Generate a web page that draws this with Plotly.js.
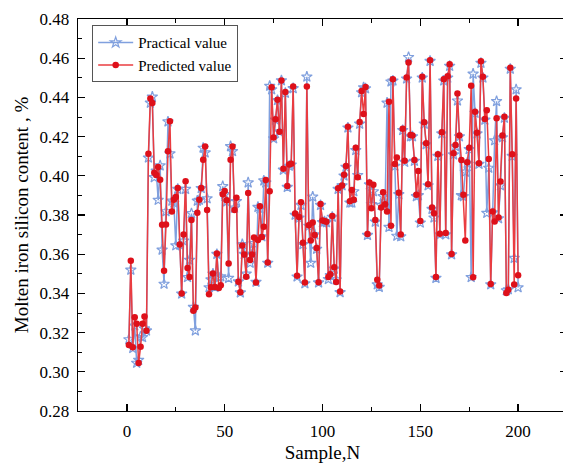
<!DOCTYPE html>
<html>
<head>
<meta charset="utf-8">
<script src="https://cdn.plot.ly/plotly-3.0.1.min.js"></script>
<style>
html,body{margin:0;padding:0;overflow:hidden;background:#fff;width:563px;height:467px;}
#chart{width:570px;height:467px;}
</style>
</head>
<body>
<div id="chart"></div>
<script>
const practicalValue = [
0.3165,0.3520,0.3120,0.3235,0.3045,0.3060,0.3180,0.3176,0.3220,0.3210,
0.4092,0.4372,0.4403,0.3992,0.4025,0.3876,0.4052,0.3622,0.3448,0.3818,
0.4276,0.4113,0.3872,0.3862,0.3644,0.3932,0.3648,0.3398,0.3668,0.3932,
0.3482,0.3570,0.3808,0.3330,0.3210,0.3872,0.3876,0.3936,0.4142,0.4118,
0.3884,0.3430,0.3470,0.3500,0.3432,0.3600,0.3480,0.3486,0.3946,0.3905,
0.3868,0.3478,0.4150,0.4125,0.3836,0.3870,0.3460,0.3404,0.3650,0.3600,
0.3500,0.3965,0.3555,0.3600,0.3655,0.3458,0.3840,0.3832,0.3690,0.3975,
0.3965,0.3555,0.4458,0.4440,0.4190,0.4285,0.4385,0.4225,0.4486,0.4030,
0.4422,0.3942,0.4050,0.4056,0.4446,0.3800,0.3485,0.3785,0.3850,0.3650,
0.3450,0.4505,0.3744,0.3555,0.3893,0.3700,0.3626,0.3455,0.3850,0.3762,
0.3766,0.3762,0.3472,0.3492,0.3790,0.3525,0.3470,0.3932,0.3405,0.3950,
0.4000,0.4045,0.4245,0.3862,0.3862,0.3920,0.4130,0.4003,0.4265,0.4425,
0.4450,0.4445,0.3697,0.3955,0.3855,0.3920,0.3765,0.3445,0.3432,0.3850,
0.3895,0.3855,0.4372,0.3738,0.4480,0.4485,0.4050,0.3693,0.3905,0.3690,
0.4232,0.4070,0.4495,0.4605,0.4200,0.4200,0.4075,0.3895,0.3900,0.3760,
0.4500,0.4265,0.4160,0.3950,0.4585,0.3830,0.3786,0.3478,0.4100,0.3700,
0.4215,0.4485,0.3700,0.4500,0.4560,0.3598,0.4108,0.4150,0.4383,0.4200,
0.3900,0.3895,0.4020,0.4065,0.4135,0.3482,0.4520,0.4320,0.4215,0.4060,
0.4575,0.4500,0.4285,0.3810,0.4040,0.3445,0.3812,0.4180,0.4380,0.3782,
0.3950,0.4195,0.4295,0.3415,0.3420,0.4545,0.4100,0.3580,0.4440,0.3430
];
const predictedValue = [
0.3137,0.3566,0.3125,0.3278,0.3245,0.3045,0.3128,0.3245,0.3282,0.3210,
0.4112,0.4395,0.4372,0.4015,0.4004,0.4045,0.3980,0.3750,0.3515,0.3752,
0.4125,0.4278,0.3818,0.3878,0.3892,0.3938,0.3650,0.3400,0.3700,0.3972,
0.3530,0.3484,0.3775,0.3312,0.3328,0.3812,0.3878,0.3938,0.4082,0.4150,
0.3825,0.3396,0.3432,0.3502,0.3433,0.3603,0.3428,0.3442,0.3906,0.3922,
0.3875,0.3552,0.4082,0.4150,0.3825,0.3888,0.3460,0.3406,0.3645,0.3598,
0.3485,0.3912,0.3570,0.3598,0.3685,0.3455,0.3672,0.3845,0.3688,0.3740,
0.3978,0.3558,0.3921,0.4452,0.4195,0.4288,0.4388,0.4225,0.4486,0.4036,
0.4428,0.3948,0.4058,0.4062,0.4456,0.3808,0.3490,0.3790,0.3865,0.3658,
0.3455,0.4456,0.3748,0.3670,0.3762,0.3698,0.3632,0.3457,0.3856,0.3772,
0.3770,0.3766,0.3484,0.3498,0.3795,0.3533,0.3458,0.3937,0.3410,0.3950,
0.4005,0.4050,0.4250,0.3870,0.3928,0.3878,0.4143,0.3993,0.4275,0.4433,
0.4315,0.4453,0.3703,0.3966,0.3835,0.3954,0.3775,0.3470,0.3440,0.3838,
0.3916,0.3855,0.3818,0.4378,0.3745,0.4492,0.4060,0.4093,0.3914,0.3700,
0.4240,0.4077,0.4502,0.4578,0.4208,0.4205,0.4081,0.3903,0.4025,0.3770,
0.4505,0.4273,0.4166,0.3957,0.4590,0.3838,0.3809,0.3484,0.4110,0.3704,
0.4222,0.4492,0.3708,0.4508,0.4569,0.3601,0.4115,0.4157,0.4420,0.4205,
0.4081,0.3903,0.3670,0.4069,0.4143,0.4459,0.3482,0.4327,0.4220,0.4064,
0.4585,0.4505,0.4290,0.4335,0.4086,0.3448,0.3818,0.3767,0.4293,0.3787,
0.3971,0.4205,0.4301,0.3402,0.3419,0.4551,0.4110,0.3445,0.4395,0.3492
];
const sampleN = practicalValue.map((_, i) => i + 1);
const xTickVals = [0, 50, 100, 150, 200];
const yTickVals = [0.28, 0.30, 0.32, 0.34, 0.36, 0.38, 0.40, 0.42, 0.44, 0.46, 0.48];

const fontFam = 'Liberation Serif';

const traces = [
  {
    x: sampleN, y: practicalValue, name: 'Practical value',
    type: 'scatter', mode: 'lines+markers',
    line: {color: 'rgb(128,160,222)', width: 1.5},
    marker: {symbol: 'star-open', size: 8, color: 'rgb(128,160,222)', line: {width: 1.2, color: 'rgb(128,160,222)'}}
  },
  {
    x: sampleN, y: predictedValue, name: 'Predicted value',
    type: 'scatter', mode: 'lines+markers',
    line: {color: 'rgb(234,60,64)', width: 1.5},
    marker: {symbol: 'circle', size: 6.5, color: 'rgb(222,16,26)'}
  }
];

const axisCommon = {
  showline: true, linecolor: '#000', linewidth: 1.3, mirror: 'ticks',
  ticks: 'inside', ticklen: 7, tickwidth: 1.2, tickcolor: '#000',
  showgrid: false, zeroline: false,
  tickfont: {family: fontFam, size: 17, color: '#000'}
};

const layout = {
  width: 570, height: 467,
  margin: {l: 78, r: 3, t: 19, b: 56},
  paper_bgcolor: '#fff', plot_bgcolor: '#fff',
  font: {family: fontFam, color: '#000'},
  showlegend: true,
  legend: {
    x: 0.029, y: 0.984, xanchor: 'left', yanchor: 'top',
    bgcolor: '#fff', bordercolor: '#555', borderwidth: 1,
    font: {family: fontFam, size: 15, color: '#000'},
    tracegroupgap: 0, itemwidth: 35
  },
  xaxis: Object.assign({}, axisCommon, {
    range: [-25, 225], tickvals: xTickVals, ticklabelstandoff: 4,
    minor: {dtick: 25, tick0: 0, ticks: 'inside', ticklen: 4, tickwidth: 1, tickcolor: '#000'},
    title: {text: 'Sample,N', font: {family: fontFam, size: 19, color: '#000'}, standoff: 6}
  }),
  yaxis: Object.assign({}, axisCommon, {
    range: [0.28, 0.48], tickvals: yTickVals, tickformat: '.2f', ticklabelstandoff: 4,
    minor: {dtick: 0.01, tick0: 0.28, ticks: 'inside', ticklen: 4, tickwidth: 1, tickcolor: '#000'},
    title: {text: 'Molten iron silicon content , %', font: {family: fontFam, size: 19, color: '#000'}, standoff: 6}
  })
};

Plotly.newPlot('chart', traces, layout, {displayModeBar: false, staticPlot: true});
</script>
</body>
</html>
